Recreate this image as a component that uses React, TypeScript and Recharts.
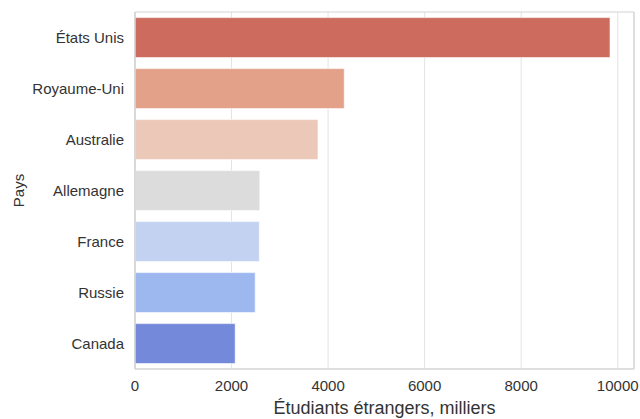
import { Bar, BarChart, CartesianGrid, Cell, Label, XAxis, YAxis } from "recharts";

const COUNTRIES = ["États Unis", "Royaume-Uni", "Australie", "Allemagne", "France", "Russie", "Canada"];
const STUDENTS = [9840, 4335, 3790, 2585, 2575, 2490, 2075];
const COLORS = ["#cc6b5e", "#e3a18a", "#ebc8b7", "#dcdcdc", "#c2d2f0", "#9db7ef", "#7489da"];
const X_TICKS = [0, 2000, 4000, 6000, 8000, 10000];
const X_MAX = 10337;

const data = COUNTRIES.map((country, i) => ({ country, value: STUDENTS[i] }));

const FONT = "'Liberation Sans', Arial, sans-serif";
const FRAME = "#d4d4d4";

// plot frame: lines on the edges of the plot area
const frameH = ({ offset }: any) => [offset.top, offset.top + offset.height];
const frameV = ({ offset }: any) => [offset.left, offset.left + offset.width];

export default function App() {
  return (
    <div style={{ position: "absolute", left: 0, top: 0, width: 640, height: 419, background: "#fff", fontFamily: FONT }}>
      <BarChart
        width={640}
        height={419}
        data={data}
        layout="vertical"
        margin={{ top: 12, right: 6, left: 0, bottom: 0 }}
        barCategoryGap="11%"
      >
        <CartesianGrid horizontal={false} stroke="#e3e3e3" />
        <CartesianGrid
          stroke={FRAME}
          strokeWidth={1.2}
          horizontalCoordinatesGenerator={frameH}
          verticalCoordinatesGenerator={frameV}
        />
        <XAxis
          type="number"
          domain={[0, X_MAX]}
          ticks={X_TICKS}
          allowDataOverflow
          height={50}
          tickLine={false}
          tickMargin={5}
          axisLine={{ stroke: FRAME, strokeWidth: 1.2 }}
          tick={{ fontSize: 15, fill: "#333", fontFamily: FONT }}
        >
          <Label
            value="Étudiants étrangers, milliers"
            position="insideBottom"
            offset={5}
            style={{ fontSize: 18, fill: "#333", fontFamily: FONT }}
          />
        </XAxis>
        <YAxis
          type="category"
          dataKey="country"
          width={135}
          tickLine={false}
          tickMargin={5}
          axisLine={{ stroke: FRAME, strokeWidth: 1.2 }}
          tick={{ fontSize: 15, fill: "#333", fontFamily: FONT }}
        >
          <Label
            content={(props: any) => {
              const vb = props.viewBox || {};
              const x = 18;
              const y = (vb.y ?? 0) + (vb.height ?? 0) / 2;
              return (
                <text
                  x={x}
                  y={y}
                  transform={`rotate(-90 ${x} ${y})`}
                  textAnchor="middle"
                  dominantBaseline="central"
                  style={{ fontSize: 15, fill: "#333", fontFamily: FONT }}
                >
                  Pays
                </text>
              );
            }}
          />
        </YAxis>
        <Bar dataKey="value" isAnimationActive={false} stroke="#ffffff" strokeWidth={0.6}>
          {data.map((d, i) => (
            <Cell key={d.country} fill={COLORS[i]} />
          ))}
        </Bar>
      </BarChart>
    </div>
  );
}
